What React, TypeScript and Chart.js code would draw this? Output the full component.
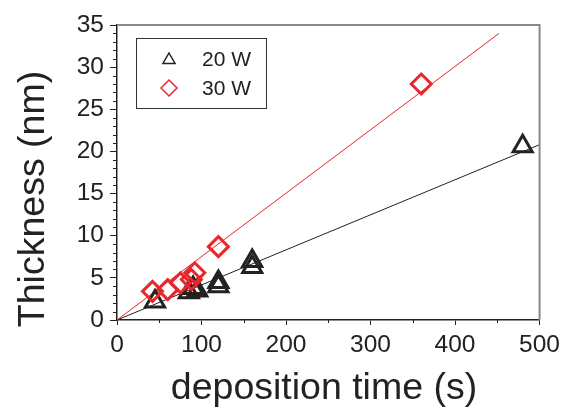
import React, { useEffect, useRef } from "react";
import { Chart, registerables } from "chart.js";

Chart.register(...registerables);

// ---- data ----
const time20W = [45, 85, 90, 95, 120, 120, 160, 160, 480];
const thick20W = [2.2, 3.3, 3.8, 3.5, 4.0, 4.5, 6.3, 7.0, 20.6];
const time30W = [42, 60, 75, 88, 92, 120, 360];
const thick30W = [3.4, 3.6, 4.4, 4.8, 5.6, 8.7, 28.0];
const fit20WTime = [0, 500];
const fit20WThick = [0, 20.8];
const fit30WTime = [0, 452];
const fit30WThick = [0, 34.0];
const xMajorTicks = [0, 100, 200, 300, 400, 500];
const yMajorTicks = [0, 5, 10, 15, 20, 25, 30, 35];
const legendLabels = ["20 W", "30 W"];
const xTitle = "deposition time (s)";
const yTitle = "Thickness (nm)";

const FONT = "'Liberation Sans', Arial, Helvetica, sans-serif";
const INK = "#222";
const RED = "#e8262b";

const toPts = (xs: number[], ys: number[]) => xs.map((x, i) => ({ x, y: ys[i] }));

const decorPlugin = {
  id: "decor",
  afterDraw(chart: any) {
    const { ctx, chartArea, scales } = chart;
    const { left, right, top, bottom } = chartArea;
    ctx.save();
    // frame top & right
    ctx.strokeStyle = "#888";
    ctx.lineWidth = 2;
    ctx.beginPath();
    ctx.moveTo(left, top);
    ctx.lineTo(right, top);
    ctx.lineTo(right, bottom);
    ctx.stroke();

    // minor ticks
    ctx.strokeStyle = INK;
    ctx.lineWidth = 1;
    const yMin = yMajorTicks[0], yMax = yMajorTicks[yMajorTicks.length - 1];
    for (let v = yMin; v <= yMax; v += 1) {
      if (yMajorTicks.includes(v)) continue;
      const py = Math.round(scales.y.getPixelForValue(v)) + 0.5;
      ctx.beginPath();
      ctx.moveTo(left - 4, py);
      ctx.lineTo(left, py);
      ctx.stroke();
    }
    for (let i = 0; i < xMajorTicks.length - 1; i++) {
      const v = (xMajorTicks[i] + xMajorTicks[i + 1]) / 2;
      const px = Math.round(scales.x.getPixelForValue(v)) + 0.5;
      ctx.beginPath();
      ctx.moveTo(px, bottom);
      ctx.lineTo(px, bottom + 3);
      ctx.stroke();
    }

    // axis titles
    ctx.fillStyle = INK;
    ctx.font = `37.5px ${FONT}`;
    ctx.textAlign = "center";
    ctx.textBaseline = "alphabetic";
    ctx.fillText(xTitle, 324, 399);
    ctx.save();
    ctx.translate(44, 199);
    ctx.rotate(-Math.PI / 2);
    ctx.fillText(yTitle, 0, 0);
    ctx.restore();

    // legend box
    ctx.strokeStyle = "#333";
    ctx.lineWidth = 1;
    ctx.strokeRect(136.5, 38.5, 130, 70);
    ctx.font = `21px ${FONT}`;
    ctx.textAlign = "left";
    ctx.textBaseline = "middle";
    // triangle
    const tx = 169, ty = 60, tr = 7;
    ctx.strokeStyle = INK;
    ctx.lineWidth = 1.5;
    ctx.beginPath();
    ctx.moveTo(tx, ty - tr);
    ctx.lineTo(tx + tr * 0.866, ty + tr * 0.5);
    ctx.lineTo(tx - tr * 0.866, ty + tr * 0.5);
    ctx.closePath();
    ctx.stroke();
    ctx.fillStyle = INK;
    ctx.fillText(legendLabels[0], 202, 60);
    // diamond
    const dx = 169, dy = 88, dr = 8;
    ctx.strokeStyle = RED;
    ctx.beginPath();
    ctx.moveTo(dx - dr, dy);
    ctx.lineTo(dx, dy - dr);
    ctx.lineTo(dx + dr, dy);
    ctx.lineTo(dx, dy + dr);
    ctx.closePath();
    ctx.stroke();
    ctx.fillStyle = INK;
    ctx.fillText(legendLabels[1], 202, 89);
    ctx.restore();
  },
};

export default function App() {
  const ref = useRef<HTMLCanvasElement | null>(null);
  useEffect(() => {
    if (!ref.current) return;
    const chart = new Chart(ref.current, {
      type: "scatter",
      data: {
        datasets: [
          {
            label: legendLabels[1],
            data: toPts(time30W, thick30W),
            pointStyle: "rectRot",
            pointRadius: 10,
            pointBorderWidth: 3,
            borderColor: RED,
            backgroundColor: "rgba(0,0,0,0)",
            showLine: false,
          },
          {
            label: legendLabels[0],
            data: toPts(time20W, thick20W),
            pointStyle: "triangle",
            pointRadius: 11,
            pointBorderWidth: 3,
            borderColor: INK,
            backgroundColor: "rgba(0,0,0,0)",
            showLine: false,
          },
          {
            label: "fit 30 W",
            data: toPts(fit30WTime, fit30WThick),
            showLine: true,
            pointRadius: 0,
            borderColor: RED,
            borderWidth: 1,
          },
          {
            label: "fit 20 W",
            data: toPts(fit20WTime, fit20WThick),
            showLine: true,
            pointRadius: 0,
            borderColor: INK,
            borderWidth: 1,
          },
        ],
      },
      options: {
        animation: false,
        responsive: false,
        events: [],
        layout: { padding: { left: 0, right: 22, top: 25, bottom: 0 } },
        plugins: { legend: { display: false }, tooltip: { enabled: false } },
        scales: {
          x: {
            type: "linear",
            min: xMajorTicks[0],
            max: xMajorTicks[xMajorTicks.length - 1],
            afterFit: (s: any) => { s.height = 89; },
            afterBuildTicks: (s: any) => { s.ticks = xMajorTicks.map((v) => ({ value: v })); },
            ticks: { font: { size: 24.5, family: FONT }, color: INK, padding: 6, maxRotation: 0 },
            grid: { drawOnChartArea: false, drawTicks: true, tickLength: 5, color: INK, lineWidth: 1 },
            border: { color: INK, width: 1.5 },
          },
          y: {
            type: "linear",
            min: yMajorTicks[0],
            max: yMajorTicks[yMajorTicks.length - 1],
            afterFit: (s: any) => { s.width = 117; },
            afterBuildTicks: (s: any) => { s.ticks = yMajorTicks.map((v) => ({ value: v })); },
            ticks: { font: { size: 24.5, family: FONT }, color: INK, padding: 6 },
            grid: { drawOnChartArea: false, drawTicks: true, tickLength: 7, color: INK, lineWidth: 1 },
            border: { color: INK, width: 1.5 },
          },
        },
      },
      plugins: [decorPlugin],
    });
    return () => chart.destroy();
  }, []);
  return (
    <div style={{ position: "absolute", left: 0, top: 0, width: 566, height: 409, background: "#fff" }}>
      <canvas ref={ref} width={566} height={409} />
    </div>
  );
}
